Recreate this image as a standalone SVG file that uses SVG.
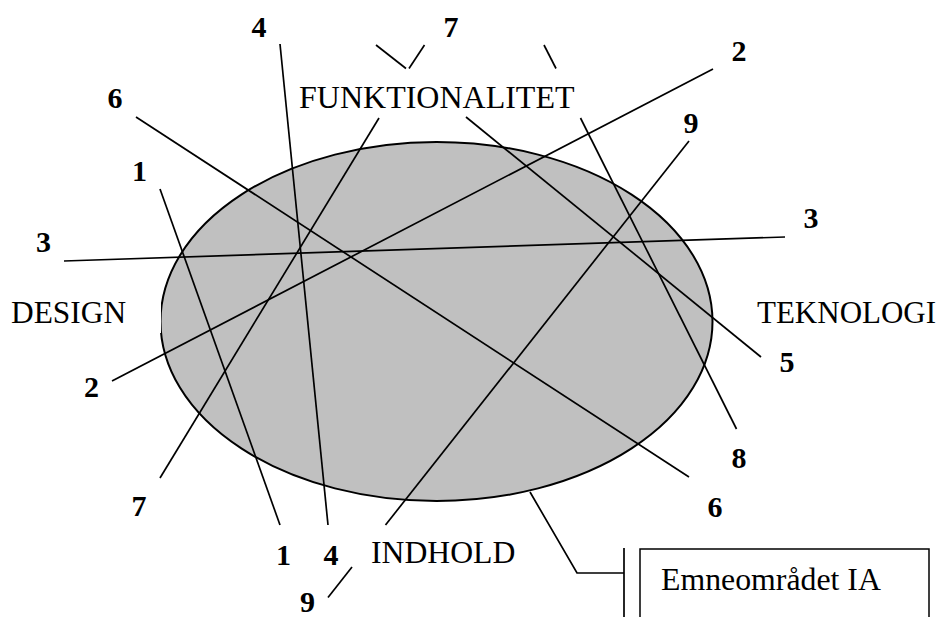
<svg xmlns="http://www.w3.org/2000/svg" width="942" height="617" viewBox="0 0 942 617">
<style>
.lbl{font-family:"Liberation Serif","Times New Roman",serif;font-size:31.7px;fill:#000}
.num{font-family:"Liberation Serif","Times New Roman",serif;font-size:30px;font-weight:bold;fill:#000;text-anchor:middle}
.ln{stroke:#000;stroke-width:1.7;fill:none}
</style>
<rect width="942" height="617" fill="#fff"/>
<g id="emneomraade">
<ellipse cx="436.5" cy="321.5" rx="276" ry="179.5" fill="#c0c0c0" stroke="#000" stroke-width="2"/>
</g>
<rect x="0" y="292" width="161" height="41" fill="#fff"/>
<g id="design"><text class="lbl" x="11" y="323" style="font-size:31.4px">DESIGN</text></g>
<g id="teknologi"><text class="lbl" x="757" y="323" style="font-size:31px">TEKNOLOGI</text></g>
<g id="funktionalitet"><text class="lbl" x="299" y="107.5" style="font-size:32px">FUNKTIONALITET</text></g>
<g id="indhold"><text class="lbl" x="371" y="563">INDHOLD</text></g>
<g id="emneboks">
<rect x="640" y="549" width="289" height="90" fill="#fff" stroke="#000" stroke-width="1.5"/>
<text class="lbl" x="661" y="590" style="font-size:31.8px">Emneområdet IA</text>
</g>
<g id="numbers">
<text class="num" x="259" y="36.5">4</text>
<text class="num" x="451" y="36.5">7</text>
<text class="num" x="115" y="108">6</text>
<text class="num" x="139.5" y="181">1</text>
<text class="num" x="43.5" y="252">3</text>
<text class="num" x="739" y="61">2</text>
<text class="num" x="691" y="132.5">9</text>
<text class="num" x="811" y="228">3</text>
<text class="num" x="91.5" y="396.5">2</text>
<text class="num" x="787" y="371.5">5</text>
<text class="num" x="739" y="468">8</text>
<text class="num" x="139" y="516">7</text>
<text class="num" x="715" y="516.5">6</text>
<text class="num" x="283.5" y="565">1</text>
<text class="num" x="331" y="565">4</text>
<text class="num" x="307.5" y="611.5">9</text>
</g>
<g id="connectors" class="ln">
<line x1="160" y1="189" x2="280" y2="525"/>
<line x1="280" y1="44" x2="328" y2="525"/>
<line x1="136" y1="117" x2="689" y2="477"/>
<line x1="64" y1="261" x2="785" y2="237"/>
<line x1="112" y1="381" x2="713" y2="69"/>
<line x1="379" y1="118" x2="160" y2="478"/>
<line x1="376" y1="45" x2="406" y2="68.5"/>
<line x1="409" y1="68.5" x2="424.5" y2="45"/>
<line x1="544" y1="45" x2="556" y2="68.5"/>
<line x1="580.5" y1="118" x2="736.5" y2="429"/>
<line x1="466" y1="117" x2="761" y2="357"/>
<line x1="689" y1="141" x2="385.5" y2="525"/>
<line x1="352" y1="567" x2="328" y2="597.5"/>
<polyline points="530,492 577,573 624,573"/>
<line x1="624" y1="548" x2="624" y2="620"/>
</g>
</svg>
